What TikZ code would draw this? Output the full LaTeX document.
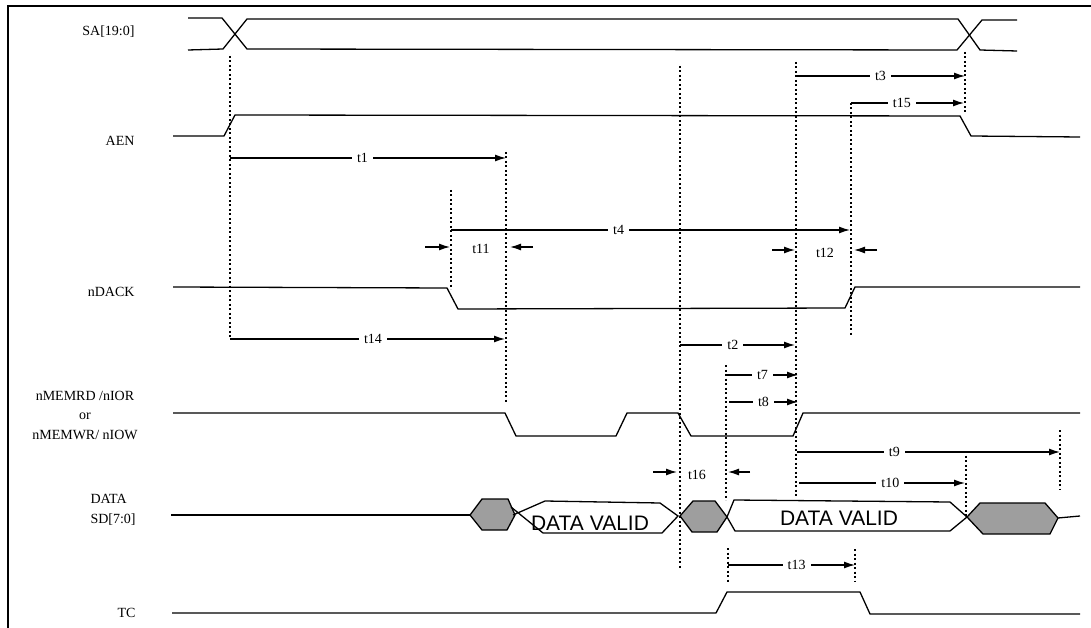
\documentclass[tikz,border=0pt]{standalone}
\usepackage{fontspec}
\setmainfont{Liberation Serif}
\newfontfamily\arialfont{Liberation Sans}
\usetikzlibrary{arrows.meta}
\begin{document}
\begin{tikzpicture}[x=1pt,y=-1pt,
  sig/.style={line width=1.3pt, line join=miter},
  dotv/.style={line width=2.1pt, dash pattern=on 2pt off 2.5pt},
  tarr/.style={line width=1.3pt,-{Latex[length=11pt,width=7pt]}},
  tlab/.style={fill=white, inner xsep=5pt, inner ysep=1pt, font=\fontsize{14}{16}\selectfont},
  tl/.style={inner sep=1pt, font=\fontsize{14}{16}\selectfont},
  siglab/.style={font=\fontsize{14}{16}\selectfont, anchor=east},
  hatch/.style={draw=black, line width=1.3pt, fill=black!38},
  valid/.style={font=\arialfont\fontsize{21}{24}\selectfont}]
\useasboundingbox (0,0) rectangle (1091,628);
\draw[line width=1.3pt] (8,628) -- (8,6) -- (1091,6);

% signal labels
\node[siglab] (lSA) at (138,32) {SA[19:0]};
\node[siglab] (lAEN) at (138,141) {AEN};
\node[siglab] (lDACK) at (138,292) {nDACK};
\node[align=center, font=\fontsize{14}{19.5}\selectfont] (lMEM) at (85,415) {nMEMRD /nIOR\\or\\nMEMWR/ nIOW};
\node[align=left, anchor=west, font=\fontsize{14}{20}\selectfont] (lDATA) at (87,510) {DATA\\SD[7:0]};
\node[siglab] (lTC) at (139,613) {TC};

% SA bus
\draw[sig] (188,18) -- (222,18) -- (247,49) -- (957,50) -- (982,20) -- (1017,20);
\draw[sig] (188,50) -- (223,49) -- (247,19) -- (958,19) -- (980,50) -- (1017,51);

% AEN
\draw[sig] (173,136) -- (224,136) -- (235,115) -- (960,116) -- (971,136) -- (1080,137);
% nDACK
\draw[sig] (173,287) -- (447,288) -- (458,309) -- (845,308) -- (855,287) -- (1080,287);
% nMEMRD
\draw[sig] (173,413) -- (505,413) -- (516,436) -- (616,436) -- (627,413) -- (678,413)
  -- (691,436) -- (793,436) -- (803,413) -- (1080,413);
% TC
\draw[sig] (172,613) -- (716,613) -- (727,592) -- (860,592) -- (870,614) -- (1080,614);

% DATA
\draw[sig] (171,515) -- (470,515);
\draw[hatch] (470,515) -- (482,499) -- (508,499) -- (515,515) -- (507,530) -- (482,530) -- cycle;
\draw[sig] (513,515) -- (545,501) -- (660,503) -- (678,516) -- (662,533) -- (543,533) -- (511,507);
\draw[hatch] (680,516) -- (693,501) -- (715,501) -- (727,517) -- (717,532) -- (692,532) -- cycle;
\draw[sig] (727,517) -- (734,500) -- (950,502) -- (967,517) -- (950,531) -- (735,531) -- cycle;
\draw[hatch] (967,517) -- (980,503) -- (1045,503) -- (1058,518) -- (1050,534) -- (983,534) -- cycle;
\draw[sig] (1058,518) -- (1080,516);
\node[valid] (v1) at (590,523) {DATA VALID};
\node[valid] (v2) at (839,518) {DATA VALID};

% dotted markers
\draw[dotv] (230,56) -- (230,339);
\draw[dotv] (506,152) -- (506,402);
\draw[dotv] (451,190) -- (451,289);
\draw[dotv] (680,66) -- (680,568);
\draw[dotv] (796,62) -- (796,497);
\draw[dotv] (965,52) -- (965,112);
\draw[dotv] (851,103) -- (851,335);
\draw[dotv] (726,365) -- (726,500);
\draw[dotv] (728,548) -- (728,582);
\draw[dotv] (855,549) -- (855,582);
\draw[dotv] (1060,430) -- (1060,490);
\draw[dotv] (966,451) -- (966,516);

% timing arrows
\draw[tarr] (230,158) -- node[tlab, pos=0.48] (t1) {t1} (506,158);
\draw[tarr] (451,230) -- node[tlab, pos=0.42] (t4) {t4} (850,230);
\draw[tarr] (796,76) -- node[tlab] (t3) {t3} (965,76);
\draw[tarr] (851,103) -- node[tlab, pos=0.45] (t15) {t15} (964,103);
\draw[tarr] (230,339) -- node[tlab, pos=0.52] (t14) {t14} (505,339);
\draw[tarr] (680,345) -- node[tlab, pos=0.46] (t2) {t2} (795,345);
\draw[tarr] (727,375) -- node[tlab] (t7) {t7} (798,375);
\draw[tarr] (729,402) -- node[tlab] (t8) {t8} (798,402);
\draw[tarr] (797,452) -- node[tlab, pos=0.37] (t9) {t9} (1060,452);
\draw[tarr] (799,483) -- node[tlab, pos=0.55] (t10) {t10} (965,483);
\draw[tarr] (728,565) -- node[tlab, pos=0.54] (t13) {t13} (855,565);

% inward arrow pairs
\draw[tarr] (425,247) -- (450,247);
\draw[tarr] (533,247) -- (510,247);
\node[tl] (t11) at (481,249) {t11};
\draw[tarr] (772,250) -- (795,250);
\draw[tarr] (877,250) -- (854,250);
\node[tl] (t12) at (825,253) {t12};
\draw[tarr] (653,472) -- (677,472);
\draw[tarr] (750,472) -- (728,472);
\node[tl] (t16) at (697,475) {t16};
\end{tikzpicture}
\end{document}
